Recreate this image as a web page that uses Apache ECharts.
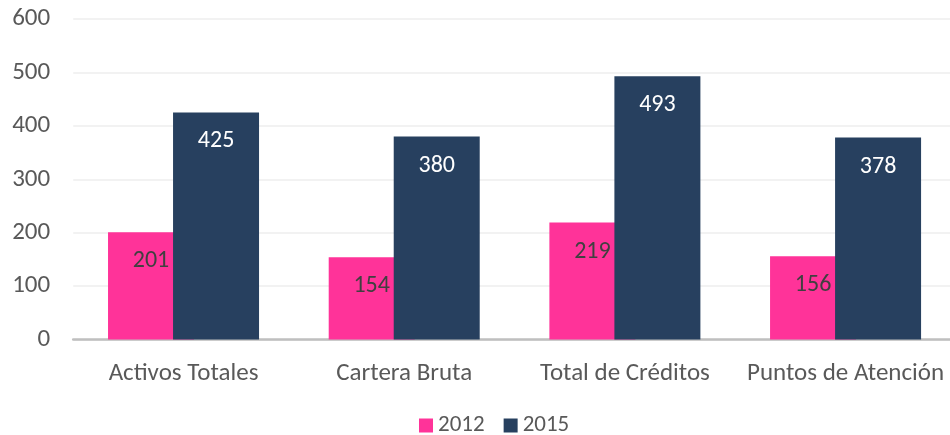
<!DOCTYPE html>
<html>
<head>
<meta charset="utf-8">
<style>
html,body{margin:0;padding:0;background:#fff;overflow:hidden;}
#chart{width:960px;height:435px;}
</style>
<script src="https://cdn.jsdelivr.net/npm/echarts@6/dist/echarts.min.js"></script>
</head>
<body>
<div id="chart"></div>
<script>
const categories = ["Activos Totales", "Cartera Bruta", "Total de Créditos", "Puntos de Atención"];
const seriesNames = ["2012", "2015"];
const values2012 = [201, 154, 219, 156];
const values2015 = [425, 380, 493, 378];
const yTicks = [0, 100, 200, 300, 400, 500, 600];

const FONT = "Carlito, 'Open Sans', sans-serif";
const chart = echarts.init(document.getElementById('chart'), null, {renderer: 'canvas'});
chart.setOption({
  animation: false,
  textStyle: {fontFamily: FONT},
  grid: {left: 73.2, width: 882.7, top: 19, bottom: 95.5, containLabel: false},
  legend: {
    top: 414,
    left: 419,
    padding: 0,
    itemWidth: 14,
    itemHeight: 14,
    itemGap: 19,
    icon: 'rect',
    textStyle: {fontSize: 23, color: '#595959', fontFamily: FONT},
    data: seriesNames
  },
  xAxis: {
    type: 'category',
    data: categories,
    axisLine: {lineStyle: {color: '#bfbfbf', width: 2.5}},
    axisTick: {show: false},
    axisLabel: {fontSize: 25, color: '#595959', margin: 22, fontFamily: FONT, interval: 0}
  },
  yAxis: {
    type: 'value',
    min: yTicks[0],
    max: yTicks[yTicks.length - 1],
    interval: 100,
    axisLine: {show: false},
    axisTick: {show: false},
    splitLine: {lineStyle: {color: '#eeeeee', width: 1.5}},
    axisLabel: {fontSize: 25, color: '#595959', margin: 23, fontFamily: FONT}
  },
  series: [
    {
      name: seriesNames[0],
      type: 'bar',
      data: values2012,
      barWidth: 86,
      barGap: '-24.4%',
      itemStyle: {color: '#FF3399'},
      label: {show: true, position: 'insideTop', distance: 17, fontSize: 24, color: '#404040', fontFamily: FONT}
    },
    {
      name: seriesNames[1],
      type: 'bar',
      data: values2015,
      barWidth: 86,
      barGap: '-24.4%',
      itemStyle: {color: '#27405F'},
      label: {show: true, position: 'insideTop', distance: 17, fontSize: 24, color: '#ffffff', fontFamily: FONT}
    }
  ]
});
</script>
</body>
</html>
